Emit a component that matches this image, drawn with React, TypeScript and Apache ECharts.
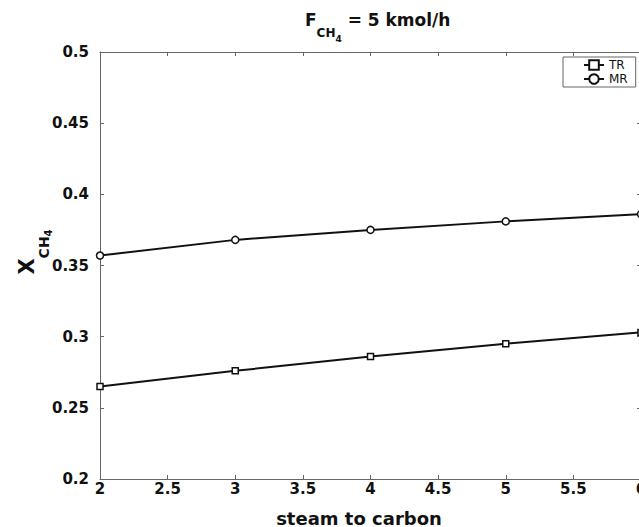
import React, { useEffect, useRef } from "react";
import * as echarts from "echarts";

// ---- data ----
const steamToCarbon = [2, 3, 4, 5, 6];
const conversionTR = [0.265, 0.276, 0.286, 0.295, 0.303];
const conversionMR = [0.357, 0.368, 0.375, 0.381, 0.386];
const seriesNames = ["TR", "MR"];
const xMin = 2;
const xMax = 6;
const xStep = 0.5;
const yMin = 0.2;
const yMax = 0.5;
const yStep = 0.05;

export default function App() {
  const ref = useRef<HTMLDivElement>(null);

  useEffect(() => {
    if (!ref.current) return;
    const chart = echarts.init(ref.current, null, { renderer: "svg" });
    const font = "DejaVu Sans";
    const ink = "#111";
    const axisColor = "#666";

    const axisLine = { show: true, onZero: false, lineStyle: { color: axisColor, width: 1 } };
    const axisTick = { show: true, inside: true, length: 4, lineStyle: { color: axisColor, width: 1 } };
    const tickLabel = { fontFamily: font, fontWeight: "bold", fontSize: 15, color: ink };

    const option: any = {
      animation: false,
      backgroundColor: "#fff",
      title: {
        text: "{m|F}{s|CH}{ss|4}{m| = 5 kmol/h}",
        left: 305,
        top: 11,
        padding: 0,
        textStyle: {
          rich: {
            m: { fontFamily: font, fontWeight: "bold", fontSize: 17, color: ink, lineHeight: 19, verticalAlign: "top" },
            s: { fontFamily: font, fontWeight: "bold", fontSize: 12, color: ink, lineHeight: 13, padding: [16, 0, 0, 0], verticalAlign: "top" },
            ss: { fontFamily: font, fontWeight: "bold", fontSize: 9, color: ink, lineHeight: 10, padding: [23, 0, 0, 0], verticalAlign: "top" },
          },
        },
      },
      graphic: [
        {
          type: "text",
          x: 28,
          y: 252,
          rotation: Math.PI / 2,
          style: {
            text: "{x|X}{s|CH}{ss|4}",
            align: "center",
            verticalAlign: "middle",
            rich: {
              x: { fontFamily: font, fontWeight: "bold", fontSize: 21, fill: ink, lineHeight: 23, verticalAlign: "top" },
              s: { fontFamily: font, fontWeight: "bold", fontSize: 14, fill: ink, lineHeight: 15, padding: [20, 0, 0, 0], verticalAlign: "top" },
              ss: { fontFamily: font, fontWeight: "bold", fontSize: 10, fill: ink, lineHeight: 11, padding: [27, 0, 0, 0], verticalAlign: "top" },
            },
          },
        },
      ],
      legend: {
        data: seriesNames,
        orient: "vertical",
        left: 563,
        top: 57,
        itemWidth: 20,
        itemHeight: 12,
        itemGap: 2,
        padding: [2, 8, 2, 20],
        borderColor: axisColor,
        borderWidth: 1,
        backgroundColor: "#fff",
        textStyle: { fontFamily: font, fontSize: 12, color: ink },
      },
      grid: { left: 100, top: 52, width: 541, height: 427, containLabel: false, outerBoundsMode: "none" },
      xAxis: [
        {
          type: "value",
          position: "bottom",
          min: xMin,
          max: xMax,
          interval: xStep,
          axisLine,
          axisTick,
          splitLine: { show: false },
          axisLabel: { ...tickLabel, margin: 2 },
          name: "steam to carbon",
          nameLocation: "middle",
          nameGap: 30,
          nameTextStyle: { fontFamily: font, fontWeight: "bold", fontSize: 18, color: ink, padding: [0, 23, 0, 0] },
        },
        {
          type: "value",
          position: "top",
          min: xMin,
          max: xMax,
          interval: xStep,
          axisLine,
          axisTick,
          splitLine: { show: false },
          axisLabel: { show: false },
        },
      ],
      yAxis: [
        {
          type: "value",
          position: "left",
          min: yMin,
          max: yMax,
          interval: yStep,
          axisLine,
          axisTick,
          splitLine: { show: false },
          axisLabel: { ...tickLabel, margin: 11 },
        },
        {
          type: "value",
          position: "right",
          min: yMin,
          max: yMax,
          interval: yStep,
          axisLine,
          axisTick,
          splitLine: { show: false },
          axisLabel: { show: false },
        },
      ],
      series: [
        {
          name: seriesNames[0],
          type: "line",
          xAxisIndex: 0,
          yAxisIndex: 0,
          data: steamToCarbon.map((x, i) => [x, conversionTR[i]]),
          symbol: "rect",
          symbolSize: 6,
          lineStyle: { color: ink, width: 2 },
          itemStyle: { color: "#fff", borderColor: ink, borderWidth: 1.5 },
        },
        {
          name: seriesNames[1],
          type: "line",
          xAxisIndex: 0,
          yAxisIndex: 0,
          data: steamToCarbon.map((x, i) => [x, conversionMR[i]]),
          symbol: "circle",
          symbolSize: 7,
          lineStyle: { color: ink, width: 2 },
          itemStyle: { color: "#fff", borderColor: ink, borderWidth: 1.5 },
        },
      ],
    };

    chart.setOption(option);
    return () => chart.dispose();
  }, []);

  return (
    <div
      ref={ref}
      style={{ position: "fixed", left: 0, top: 0, width: 639, height: 527, background: "#fff" }}
    />
  );
}
